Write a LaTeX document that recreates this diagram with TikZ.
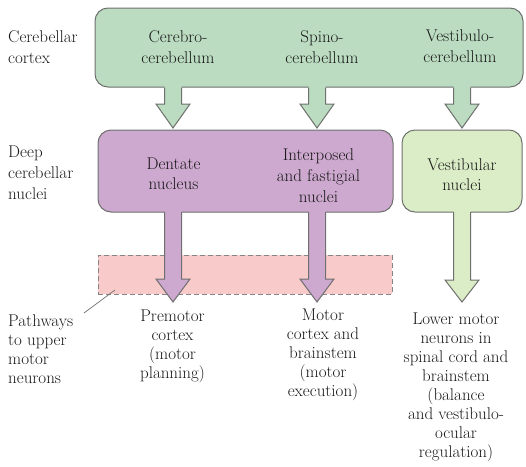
\documentclass[tikz,border=0pt]{standalone}
\usetikzlibrary{calc}
\definecolor{gbox}{RGB}{187,220,193}
\definecolor{pbox}{RGB}{205,168,207}
\definecolor{lgbox}{RGB}{219,237,198}
\definecolor{pinkfill}{RGB}{249,202,202}
\definecolor{edgecol}{RGB}{110,112,110}
\definecolor{txt}{RGB}{25,25,25}
\newcommand\fatarrow[5]{%
  \fill[#5] ({#1-8.5},{#2-2.5}) -- ({#1-8.5},#3) -- ({#1-17},#3) -- (#1,#4) -- ({#1+17},#3) -- ({#1+8.5},#3) -- ({#1+8.5},{#2-2.5}) -- cycle;
  \draw[edgeline] ({#1-8.5},#2) -- ({#1-8.5},#3) -- ({#1-17},#3) -- (#1,#4) -- ({#1+17},#3) -- ({#1+8.5},#3) -- ({#1+8.5},#2);}
\begin{document}
\begin{tikzpicture}[x=1pt,y=-1pt,
  edgeline/.style={draw=edgecol,line width=1pt,line join=miter},
  box/.style={draw=edgecol,line width=1pt,rounded corners=13pt,inner sep=0pt},
  lab/.style={font=\fontsize{17}{21}\selectfont,align=center,inner sep=0pt,text=txt,anchor=north},
  labb/.style={font=\fontsize{17}{19}\selectfont,align=center,inner sep=0pt,text=txt,anchor=north}]
\useasboundingbox (0,0) rectangle (526,466);
% boxes
\node[box,fill=gbox,minimum width=428pt,minimum height=79pt] (cortex) at (309,47.5) {};
\node[box,fill=pbox,minimum width=295pt,minimum height=82pt] (deep) at (245.5,171) {};
\node[box,fill=lgbox,minimum width=120pt,minimum height=82pt] (vest) at (462,171) {};
\node[draw=edgecol!85,dash pattern=on 5pt off 3pt,line width=1pt,fill=pinkfill,minimum width=294pt,minimum height=39pt,inner sep=0pt] (path) at (245,274.5) {};
% arrows
\fatarrow{173}{87.5}{104}{128}{gbox}
\fatarrow{317}{87.5}{104}{128}{gbox}
\fatarrow{462}{87.5}{104}{128}{gbox}
\fatarrow{173}{212}{279}{302}{pbox}
\fatarrow{317}{212}{279}{302}{pbox}
\fatarrow{462}{212}{280}{302}{lgbox}
% texts
\node[lab,anchor=north west,align=left] (lcortex) at (8,30) {Cerebellar\\cortex};
\node[lab] (cc) at (178,30) {Cerebro-\\cerebellum};
\node[lab] (sc) at (322,30) {Spino-\\cerebellum};
\node[lab] (vc) at (460,30) {Vestibulo-\\cerebellum};
\node[lab,anchor=north west,align=left] (ldeep) at (8,146) {Deep\\cerebellar\\nuclei};
\node[lab,font=\fontsize{17}{20}\selectfont] (dn) at (173.5,158) {Dentate\\nucleus};
\node[lab] (ifn) at (318.5,148) {Interposed\\and fastigial\\nuclei};
\node[lab,font=\fontsize{17}{20}\selectfont] (vn) at (462,158) {Vestibular\\nuclei};
\node[labb,anchor=north west,align=left] (lpath) at (8,314) {Pathways\\to upper\\motor\\neurons};
\node[labb] (pm) at (172.5,310) {Premotor\\cortex\\(motor\\planning)};
\node[labb] (mc) at (323,309) {Motor\\cortex and\\brainstem\\(motor\\execution)};
\node[labb] (lm) at (456,313) {Lower motor\\neurons in\\spinal cord and\\brainstem\\(balance\\and vestibulo-\\ocular\\regulation)};
% leader
\coordinate (lead) at (84,313);
\coordinate (leadend) at (115,290);
\draw[draw=edgecol,line width=0.7pt] (lead) -- (leadend);
\end{tikzpicture}
\end{document}
